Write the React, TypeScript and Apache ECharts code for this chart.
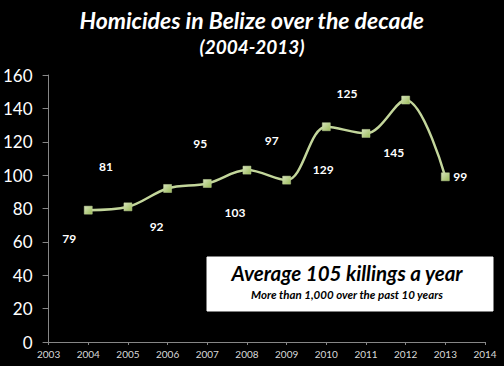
import React, { useEffect, useRef } from "react";
import * as echarts from "echarts";

const years = [2004, 2005, 2006, 2007, 2008, 2009, 2010, 2011, 2012, 2013];
const homicides = [79, 81, 92, 95, 103, 97, 129, 125, 145, 99];
const yTicks = [0, 20, 40, 60, 80, 100, 120, 140, 160];
const titleText = "Homicides in Belize over the decade";
const subtitleText = "(2004-2013)";
const boxTitle = "Average 105 killings a year";
const boxSub = "More than 1,000 over the past 10 years";

// label placement offsets (styling, not data)
const labelOffsets: [number, number][] = [
  [-19, 28], [-22, -40], [-11, 38], [-7, -40], [-12, 42],
  [-15, -40], [-3, 43], [-19, -40], [-12, 52], [15, 0],
];

const FONT = "Lato, 'Open Sans', sans-serif";

export default function App() {
  const ref = useRef<HTMLDivElement>(null);
  useEffect(() => {
    if (!ref.current) return;
    const chart = echarts.init(ref.current, undefined, { renderer: "svg" });
    const data = years.map((y, i) => ({
      value: [y, homicides[i]],
      label: { offset: labelOffsets[i] },
    }));
    chart.setOption({
      animation: false,
      backgroundColor: "#000000",
      textStyle: { fontFamily: FONT },
      grid: { left: 48, right: 19, top: 75, bottom: 24 },
      xAxis: {
        type: "value",
        min: 2003,
        max: 2014,
        interval: 1,
        axisLine: { show: true, lineStyle: { color: "#868686", width: 1 } },
        axisTick: { show: true, length: 3, lineStyle: { color: "#868686" } },
        splitLine: { show: false },
        axisLabel: {
          color: "#d9d9d9",
          fontSize: 10,
          margin: 7,
          fontFamily: FONT,
          formatter: (v: number) => String(v),
        },
      },
      yAxis: {
        type: "value",
        min: yTicks[0],
        max: yTicks[yTicks.length - 1],
        interval: 20,
        axisLine: { show: true, lineStyle: { color: "#868686", width: 1 } },
        axisTick: { show: true, length: 6, lineStyle: { color: "#868686" } },
        splitLine: { show: false },
        axisLabel: { color: "#ffffff", fontSize: 17, margin: 16, fontFamily: FONT },
      },
      series: [
        {
          type: "line",
          data,
          smooth: 0.35,
          symbol: "rect",
          symbolSize: 8,
          lineStyle: { color: "#c3d69b", width: 2.5 },
          itemStyle: {
            color: new echarts.graphic.LinearGradient(0, 0, 1, 1, [
              { offset: 0, color: "#d7e4bd" },
              { offset: 1, color: "#9bbb59" },
            ]),
            borderColor: "#c3d69b",
            borderWidth: 0.5,
          },
          label: {
            show: true,
            position: "inside",
            color: "#ffffff",
            fontWeight: "bold",
            fontSize: 12,
            fontFamily: FONT,
          },
        },
      ],
      graphic: [
        {
          type: "text",
          left: "center",
          top: 8,
          style: {
            text: titleText,
            fill: "#ffffff",
            font: `italic bold 23px ${FONT}`,
          },
        },
        {
          type: "text",
          left: "center",
          top: 37,
          style: {
            text: subtitleText,
            fill: "#ffffff",
            font: `italic bold 19px ${FONT}`,
          },
        },
        {
          type: "rect",
          shape: { x: 207, y: 257, width: 286, height: 54 },
          style: { fill: "#ffffff", stroke: "#ffffff" },
        },
        {
          type: "text",
          x: 347,
          y: 273,
          style: {
            text: boxTitle,
            fill: "#000000",
            font: `italic bold 20.5px ${FONT}`,
            align: "center",
            verticalAlign: "middle",
          },
        },
        {
          type: "text",
          x: 347,
          y: 294,
          style: {
            text: boxSub,
            fill: "#000000",
            font: `italic bold 11.5px ${FONT}`,
            align: "center",
            verticalAlign: "middle",
          },
        },
      ],
    });
    return () => chart.dispose();
  }, []);
  return <div ref={ref} style={{ width: 504, height: 366, position: "fixed", left: 0, top: 0 }} />;
}
